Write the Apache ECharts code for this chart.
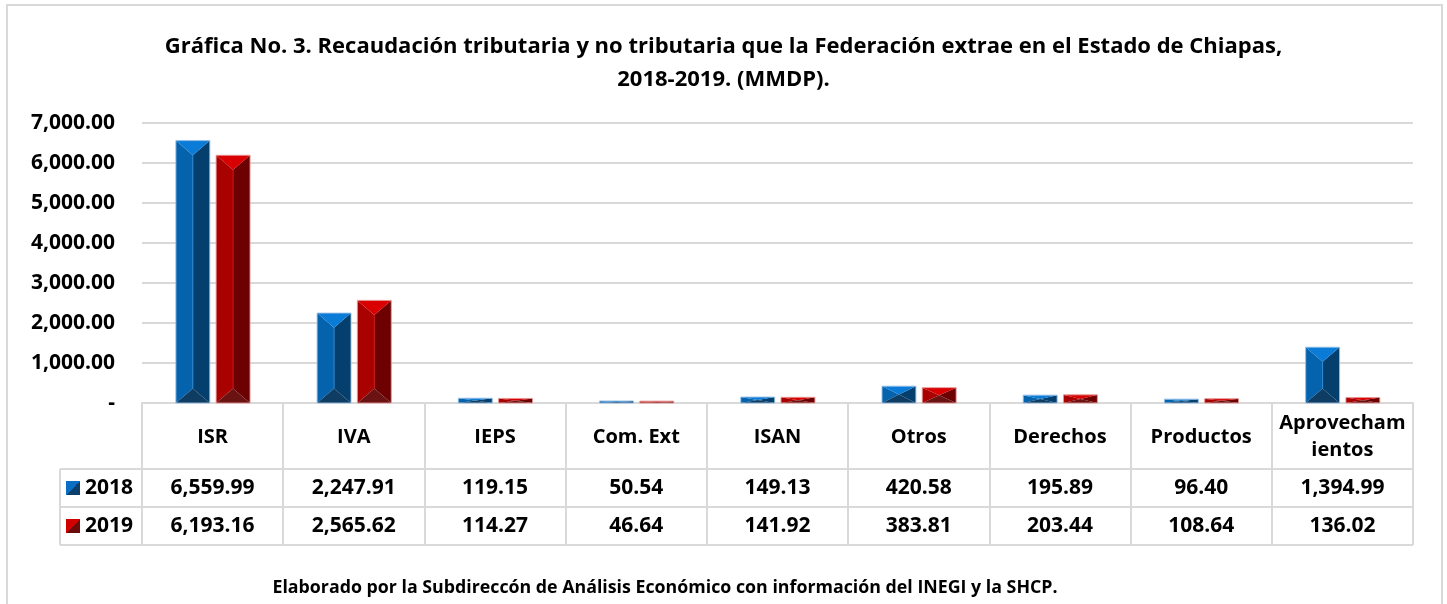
<!DOCTYPE html>
<html>
<head>
<meta charset="utf-8">
<script src="https://cdn.jsdelivr.net/npm/echarts@6/dist/echarts.min.js"></script>
<style>
html,body{margin:0;padding:0;background:#fff;}
#main{width:1447px;height:604px;}
</style>
</head>
<body>
<div id="main"></div>
<script>
var categories = ['ISR', 'IVA', 'IEPS', 'Com. Ext', 'ISAN', 'Otros', 'Derechos', 'Productos', 'Aprovecham\nientos'];
var years = ['2018', '2019'];
var values2018 = [6559.99, 2247.91, 119.15, 50.54, 149.13, 420.58, 195.89, 96.40, 1394.99];
var values2019 = [6193.16, 2565.62, 114.27, 46.64, 141.92, 383.81, 203.44, 108.64, 136.02];

var titleText = 'Gráfica No. 3. Recaudación tributaria y no tributaria que la Federación extrae en el Estado de Chiapas,\n2018-2019. (MMDP).';
var footText = 'Elaborado por la Subdireccón de Análisis Económico con información del INEGI y la SHCP.';

var FONT = '"Open Sans", Lato, sans-serif';
var LINE = '#d9d9d9';

function fmt(v) {
    return v.toLocaleString('en-US', {minimumFractionDigits: 2, maximumFractionDigits: 2});
}

var palettes = {
    '2018': {top: '#0b7bd8', left: '#0563ad', right: '#043f6e', bottom: '#0e3c62', edge: 'rgba(150,190,230,0.9)', mid: '#2b88d4',
             icon: ['#0a6fc4', '#0d3f6b']},
    '2019': {top: '#d80000', left: '#a90000', right: '#6d0000', bottom: '#6b1212', edge: 'rgba(230,150,150,0.9)', mid: '#c51414',
             icon: ['#d00000', '#6d0a0a']}
};

// bar with a bevelled (pyramid frame) look, positioned by the axes
function bevelBar(offset, pal) {
    return function (params, api) {
        var base = api.coord([api.value(0), 0]);
        var top = api.coord([api.value(0), api.value(1)]);
        var band = api.size([1, 0])[0];
        var w = band * 0.24;
        var xc = base[0] + band * offset;
        var x0 = xc - w / 2, x1 = xc + w / 2;
        var y0 = top[1], y1 = base[1];
        var b = Math.min(w * 0.43, (y1 - y0) / 2);
        return {
            type: 'group',
            children: [
                {type: 'polygon', shape: {points: [[x0, y0], [xc, y0 + b], [xc, y1 - b], [x0, y1]]}, style: {fill: pal.left}},
                {type: 'polygon', shape: {points: [[x1, y0], [xc, y0 + b], [xc, y1 - b], [x1, y1]]}, style: {fill: pal.right}},
                {type: 'polygon', shape: {points: [[x0, y0], [x1, y0], [xc, y0 + b]]}, style: {fill: pal.top}},
                {type: 'polygon', shape: {points: [[x0, y1], [x1, y1], [xc, y1 - b]]}, style: {fill: pal.bottom}},
                {type: 'line', shape: {x1: xc, y1: y0 + b, x2: xc, y2: y1 - b}, style: {stroke: pal.mid, lineWidth: 1}},
                {type: 'rect', shape: {x: x0, y: y0, width: w, height: y1 - y0}, style: {fill: null, stroke: pal.edge, lineWidth: 1}}
            ]
        };
    };
}

function iconColor(c) {
    return {type: 'linear', x: 0, y: 0, x2: 1, y2: 1,
        colorStops: [{offset: 0, color: c[0]}, {offset: 0.5, color: c[0]}, {offset: 0.5, color: c[1]}, {offset: 1, color: c[1]}]};
}

function textStyle(size) {
    return {fontFamily: FONT, fontWeight: 'bold', fontSize: size, color: '#000'};
}

function tableAxis(data, offset, tickLen, margin, size) {
    return {
        type: 'category', data: data, position: 'bottom', offset: offset,
        axisLine: {show: true, onZero: false, lineStyle: {color: LINE, width: 2}},
        axisTick: {show: true, interval: 0, length: tickLen, lineStyle: {color: LINE, width: 2}},
        axisLabel: Object.assign({interval: 0, margin: margin, verticalAlign: 'middle', lineHeight: 27}, textStyle(size)),
        splitLine: {show: false}
    };
}

var myChart = echarts.init(document.getElementById('main'));

var option = {
    backgroundColor: '#fff',
    animation: false,
    title: {
        text: titleText,
        left: 'center',
        top: 25,
        textStyle: Object.assign({lineHeight: 33}, textStyle(22))
    },
    legend: {
        data: years,
        orient: 'vertical',
        left: 66,
        top: 476,
        padding: 0,
        icon: 'rect',
        itemWidth: 14,
        itemHeight: 14,
        itemGap: 14,
        textStyle: Object.assign({lineHeight: 24}, textStyle(21))
    },
    grid: {left: 142, right: 34, top: 123, bottom: 201, containLabel: false, outerBoundsMode: 'none'},
    xAxis: [
        tableAxis(categories, 0, 66, 34, 20),
        tableAxis(values2018.map(fmt), 66, 38, 19, 21),
        tableAxis(values2019.map(fmt), 104, 38, 19, 21)
    ],
    yAxis: {
        type: 'value',
        min: 0,
        max: 7000,
        interval: 1000,
        axisLine: {show: false},
        axisTick: {show: false},
        splitLine: {lineStyle: {color: LINE, width: 2}},
        axisLabel: Object.assign({
            margin: 27,
            formatter: function (v) { return v === 0 ? '-' : fmt(v); }
        }, textStyle(21))
    },
    series: [
        {
            name: years[0], type: 'custom', xAxisIndex: 0,
            itemStyle: {color: iconColor(palettes['2018'].icon)},
            renderItem: bevelBar(-0.14, palettes['2018']),
            encode: {x: 0, y: 1},
            data: values2018.map(function (v, i) { return [i, v]; })
        },
        {
            name: years[1], type: 'custom', xAxisIndex: 0,
            itemStyle: {color: iconColor(palettes['2019'].icon)},
            renderItem: bevelBar(0.145, palettes['2019']),
            encode: {x: 0, y: 1},
            data: values2019.map(function (v, i) { return [i, v]; })
        }
    ],
    graphic: [
        {type: 'rect', shape: {x: 7, y: 5, width: 1435, height: 640}, style: {fill: null, stroke: LINE, lineWidth: 2}, silent: true},
        {type: 'line', shape: {x1: 60, y1: 469, x2: 142, y2: 469}, style: {stroke: LINE, lineWidth: 2}},
        {type: 'line', shape: {x1: 60, y1: 507, x2: 142, y2: 507}, style: {stroke: LINE, lineWidth: 2}},
        {type: 'line', shape: {x1: 60, y1: 545, x2: 1413, y2: 545}, style: {stroke: LINE, lineWidth: 2}},
        {type: 'line', shape: {x1: 60, y1: 469, x2: 60, y2: 545}, style: {stroke: LINE, lineWidth: 2}},
        {type: 'text', x: 665, y: 588, style: {text: footText, textAlign: 'center', textVerticalAlign: 'middle',
            font: 'bold 17.8px ' + FONT, fill: '#000'}}
    ]
};

myChart.setOption(option);
</script>
</body>
</html>
